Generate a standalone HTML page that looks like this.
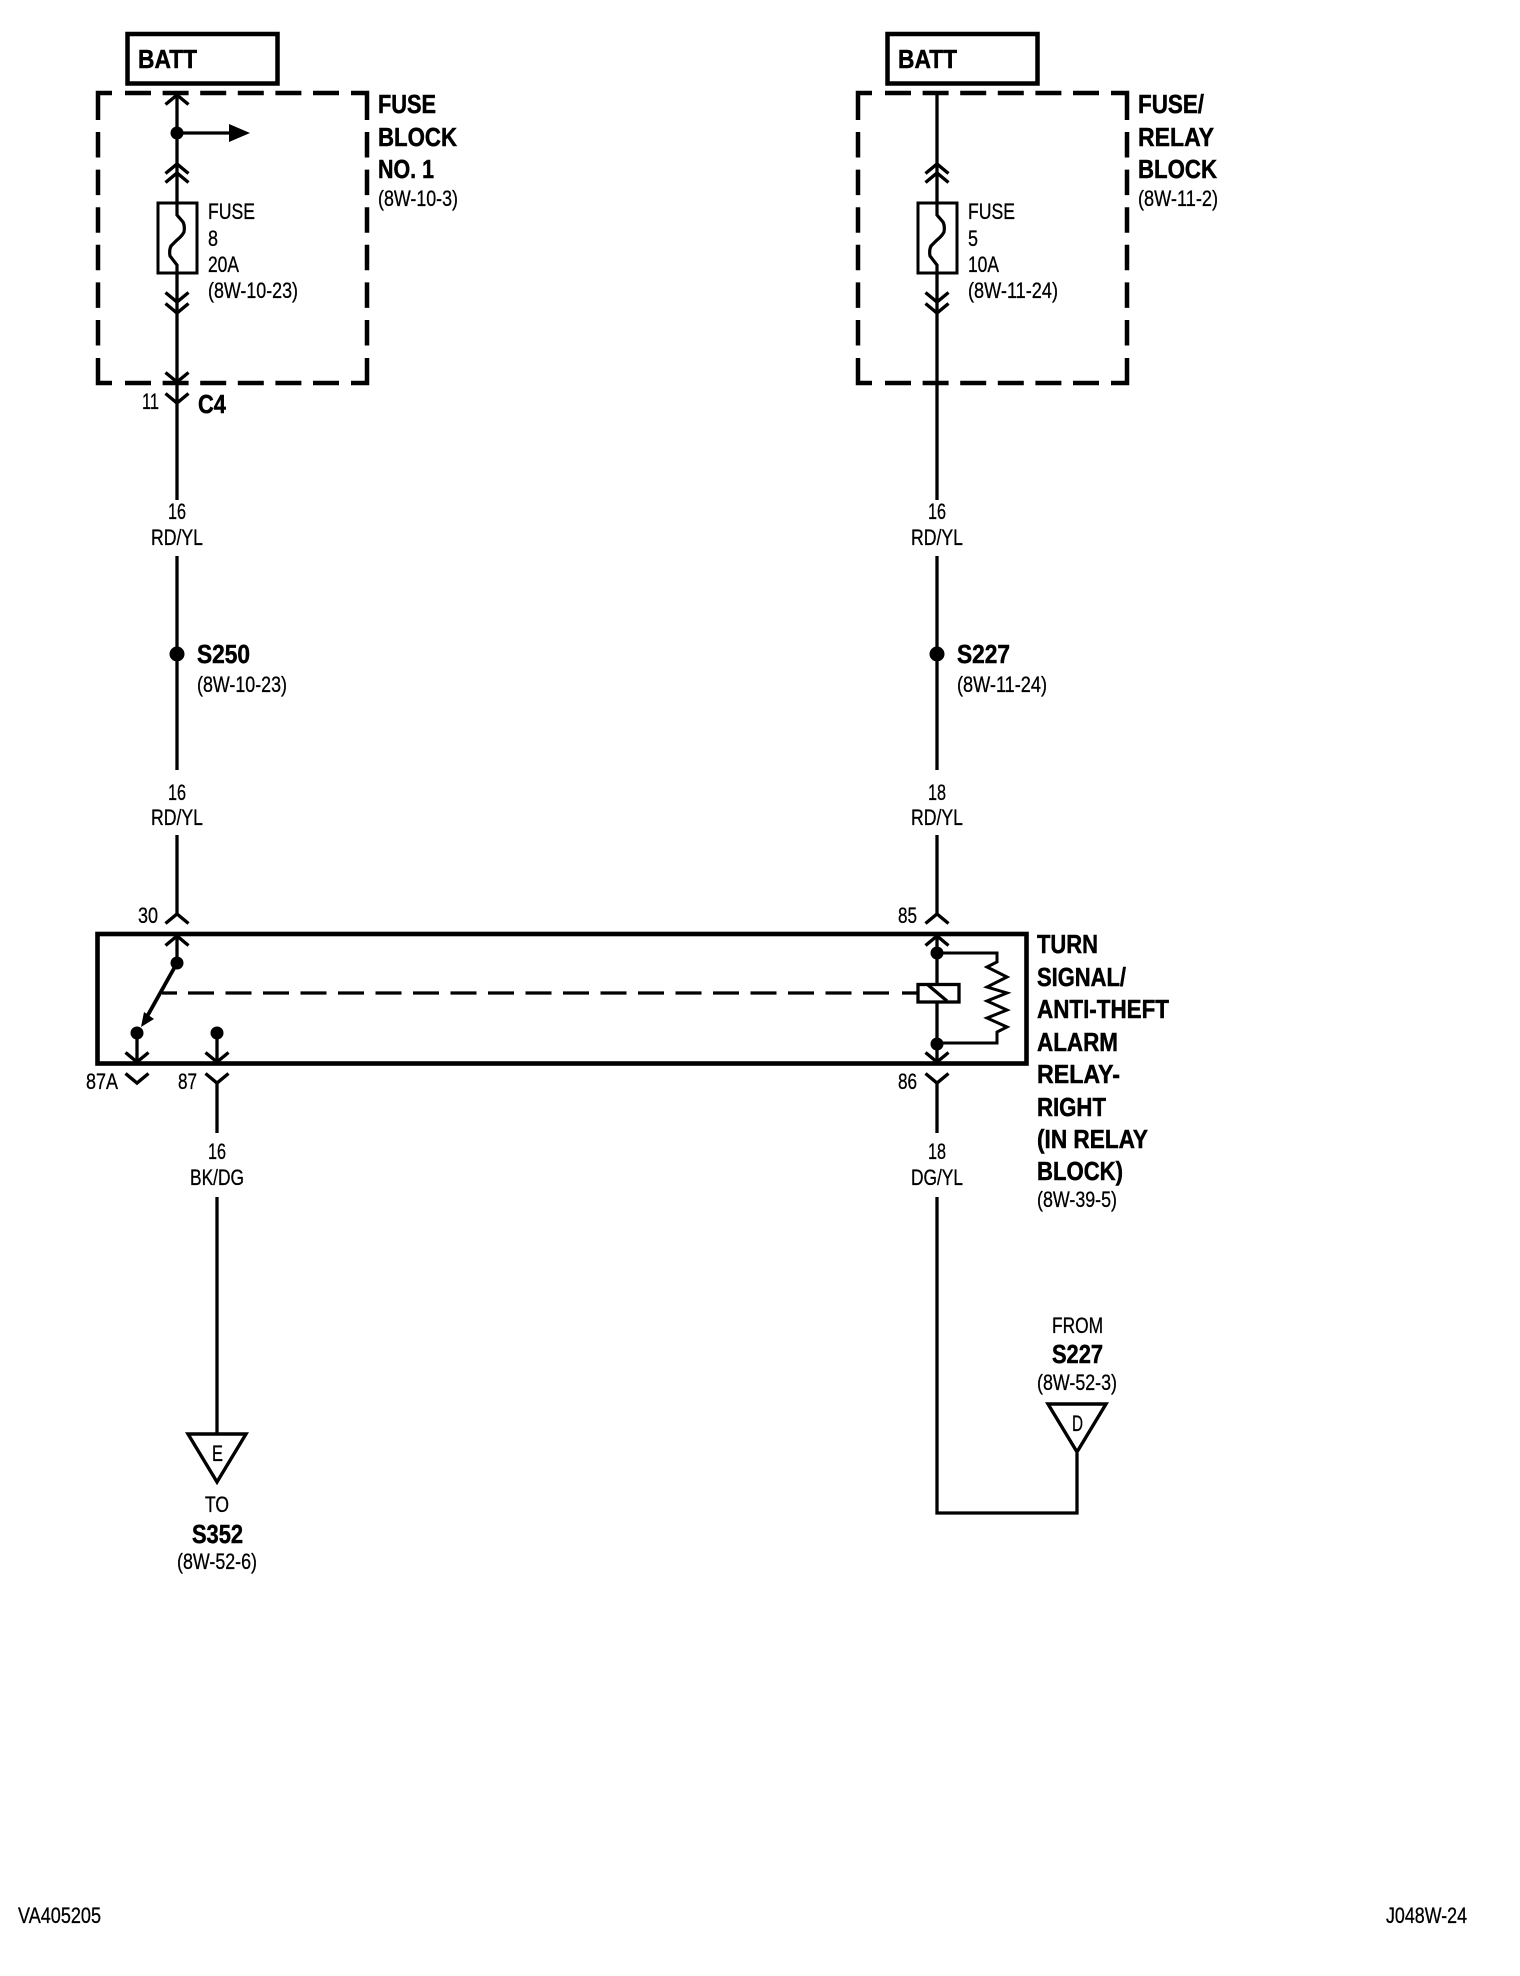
<!DOCTYPE html>
<html><head><meta charset="utf-8"><style>
html,body{margin:0;padding:0;background:#fff}
svg{display:block}
text{font-family:"Liberation Sans",Arial,sans-serif;fill:#000;stroke:#000}
.b{font-weight:bold;font-size:26px;stroke-width:.5}
.r{font-size:22px;stroke-width:.3}
</style></head><body>
<svg width="1520" height="1976" viewBox="0 0 1520 1976" xmlns="http://www.w3.org/2000/svg">
<defs>
<path id="up" d="M-11.5 9.5L0 0L11.5 9.5" fill="none" stroke="#000" stroke-width="3.4"/>
<path id="dn" d="M-11.5 -9.5L0 0L11.5 -9.5" fill="none" stroke="#000" stroke-width="3.4"/>
<g id="blk" fill="none" stroke="#000" stroke-width="4.5">
<path d="M98 120V93H112"/><path d="M367 120V93H351"/><path d="M98 358V383H112"/><path d="M367 358V383H351"/>
<path d="M125 93H340M125 383H340" stroke-dasharray="26 11.6"/>
<path d="M98 132V346M367 132V346" stroke-dasharray="25.5 12.1"/>
</g>
<path id="fz" d="M177 203V215L183 222Q185 226 184 232Q182 236 177 240L171 246Q169 250 170 256L177 265V273" fill="none" stroke="#000" stroke-width="3.2"/>
</defs>
<g fill="none" stroke="#000">
<!-- BATT boxes -->
<rect x="127.5" y="34" width="150" height="49.5" stroke-width="4.5"/>
<rect x="887.5" y="34" width="150" height="49.5" stroke-width="4.5"/>
<!-- wires -->
<g stroke-width="3.3">
<path d="M177 95V203M177 273V500M177 556V770M177 835V914"/>
<path d="M937 93V203M937 273V500M937 556V770M937 835V914"/>
<path d="M177 936V963"/>
<path d="M137 1033V1062M217 1033V1062"/>
<path d="M217 1083V1133M217 1197V1433"/>
<path d="M937 936V1062M937 1083V1133M937 1197V1513H1077V1453"/>
<path d="M177 133H232"/>
<!-- fuses -->
<rect x="158" y="203" width="39" height="70" stroke-width="3"/>
<rect x="918" y="203" width="39" height="70" stroke-width="3"/>
<!-- relay switch -->
<path d="M177 963L144 1022" stroke-width="3.8"/>
<rect x="918" y="984.5" width="41" height="17.5" fill="#fff"/>
<path d="M928 985L947 1001"/>
<path d="M937 953H997V962L987 967L1007 977L987 987L1007 993L987 1001L1007 1010L987 1018L1007 1027L997 1032V1043H937" stroke-width="3"/>
<path d="M162 993H177"/>
<path d="M188 993H889" stroke-dasharray="26 11.5"/>
<path d="M902 993H918"/>
</g>
<!-- relay box -->
<rect x="97.5" y="934" width="929" height="129.5" stroke-width="4.6"/>
<!-- triangles -->
<path d="M1048 1404H1106L1077 1452Z" stroke-width="3.4"/>
<path d="M188 1434H246L217 1482Z" stroke-width="3.4"/>
</g>
<use href="#blk"/><use href="#blk" x="760"/>
<use href="#fz"/><use href="#fz" x="760"/>
<g fill="#000">
<circle cx="177" cy="133" r="6.5"/>
<path d="M229 124L250 133L229 142Z"/>
<path d="M141 1027L144 1012L154 1019Z"/>
<circle cx="177" cy="963" r="6.5"/><circle cx="137" cy="1033" r="6.5"/><circle cx="217" cy="1033" r="6.5"/>
<circle cx="937" cy="953" r="6.5"/><circle cx="937" cy="1044" r="6.5"/>
<circle cx="177" cy="654" r="7.5"/><circle cx="937" cy="654" r="7.5"/>
</g>
<!-- chevrons -->
<g>
<use href="#up" x="177" y="95"/>
<use href="#up" x="177" y="164"/><use href="#up" x="177" y="173"/>
<use href="#dn" x="177" y="302"/><use href="#dn" x="177" y="313"/>
<use href="#dn" x="177" y="382"/><use href="#dn" x="177" y="403"/>
<use href="#up" x="937" y="164"/><use href="#up" x="937" y="173"/>
<use href="#dn" x="937" y="302"/><use href="#dn" x="937" y="313"/>
<use href="#up" x="177" y="914"/><use href="#up" x="177" y="936"/>
<use href="#up" x="937" y="914"/><use href="#up" x="937" y="936"/>
<use href="#dn" x="137" y="1062"/><use href="#dn" x="137" y="1083"/>
<use href="#dn" x="217" y="1062"/><use href="#dn" x="217" y="1083"/>
<use href="#dn" x="937" y="1062"/><use href="#dn" x="937" y="1083"/>
</g>
<!-- left column text -->
<text class="b" x="138" y="68" textLength="59" lengthAdjust="spacingAndGlyphs">BATT</text>
<text class="b" x="378" y="113" textLength="58" lengthAdjust="spacingAndGlyphs">FUSE</text>
<text class="b" x="378" y="146" textLength="79" lengthAdjust="spacingAndGlyphs">BLOCK</text>
<text class="b" x="378" y="178" textLength="56" lengthAdjust="spacingAndGlyphs">NO. 1</text>
<text class="r" x="378" y="206" textLength="80" lengthAdjust="spacingAndGlyphs">(8W-10-3)</text>
<text class="r" x="208" y="219" textLength="47" lengthAdjust="spacingAndGlyphs">FUSE</text>
<text class="r" x="208" y="246" textLength="10" lengthAdjust="spacingAndGlyphs">8</text>
<text class="r" x="208" y="272" textLength="31" lengthAdjust="spacingAndGlyphs">20A</text>
<text class="r" x="208" y="298" textLength="90" lengthAdjust="spacingAndGlyphs">(8W-10-23)</text>
<text class="r" x="142" y="409" textLength="17" lengthAdjust="spacingAndGlyphs">11</text>
<text class="b" x="198" y="413" textLength="28" lengthAdjust="spacingAndGlyphs">C4</text>
<text class="r" x="168" y="519" textLength="18" lengthAdjust="spacingAndGlyphs">16</text>
<text class="r" x="151" y="545" textLength="52" lengthAdjust="spacingAndGlyphs">RD/YL</text>
<text class="b" x="197" y="663" textLength="53" lengthAdjust="spacingAndGlyphs">S250</text>
<text class="r" x="197" y="692" textLength="90" lengthAdjust="spacingAndGlyphs">(8W-10-23)</text>
<text class="r" x="168" y="800" textLength="18" lengthAdjust="spacingAndGlyphs">16</text>
<text class="r" x="151" y="825" textLength="52" lengthAdjust="spacingAndGlyphs">RD/YL</text>
<text class="r" x="138" y="923" textLength="20" lengthAdjust="spacingAndGlyphs">30</text>
<text class="r" x="86" y="1089" textLength="32" lengthAdjust="spacingAndGlyphs">87A</text>
<text class="r" x="178" y="1089" textLength="19" lengthAdjust="spacingAndGlyphs">87</text>
<text class="r" x="208" y="1159" textLength="18" lengthAdjust="spacingAndGlyphs">16</text>
<text class="r" x="190" y="1185" textLength="54" lengthAdjust="spacingAndGlyphs">BK/DG</text>
<text class="r" x="212" y="1461" textLength="11" lengthAdjust="spacingAndGlyphs">E</text>
<text class="r" x="205" y="1512" textLength="24" lengthAdjust="spacingAndGlyphs">TO</text>
<text class="b" x="192" y="1543" textLength="51" lengthAdjust="spacingAndGlyphs">S352</text>
<text class="r" x="177" y="1569" textLength="80" lengthAdjust="spacingAndGlyphs">(8W-52-6)</text>
<text class="r" x="18" y="1923" textLength="83" lengthAdjust="spacingAndGlyphs">VA405205</text>
<!-- right column text -->
<text class="b" x="898" y="68" textLength="59" lengthAdjust="spacingAndGlyphs">BATT</text>
<text class="b" x="1138" y="113" textLength="66" lengthAdjust="spacingAndGlyphs">FUSE/</text>
<text class="b" x="1138" y="146" textLength="76" lengthAdjust="spacingAndGlyphs">RELAY</text>
<text class="b" x="1138" y="178" textLength="79" lengthAdjust="spacingAndGlyphs">BLOCK</text>
<text class="r" x="1138" y="206" textLength="80" lengthAdjust="spacingAndGlyphs">(8W-11-2)</text>
<text class="r" x="968" y="219" textLength="47" lengthAdjust="spacingAndGlyphs">FUSE</text>
<text class="r" x="968" y="246" textLength="10" lengthAdjust="spacingAndGlyphs">5</text>
<text class="r" x="968" y="272" textLength="31" lengthAdjust="spacingAndGlyphs">10A</text>
<text class="r" x="968" y="298" textLength="90" lengthAdjust="spacingAndGlyphs">(8W-11-24)</text>
<text class="r" x="928" y="519" textLength="18" lengthAdjust="spacingAndGlyphs">16</text>
<text class="r" x="911" y="545" textLength="52" lengthAdjust="spacingAndGlyphs">RD/YL</text>
<text class="b" x="957" y="663" textLength="53" lengthAdjust="spacingAndGlyphs">S227</text>
<text class="r" x="957" y="692" textLength="90" lengthAdjust="spacingAndGlyphs">(8W-11-24)</text>
<text class="r" x="928" y="800" textLength="18" lengthAdjust="spacingAndGlyphs">18</text>
<text class="r" x="911" y="825" textLength="52" lengthAdjust="spacingAndGlyphs">RD/YL</text>
<text class="r" x="898" y="923" textLength="19" lengthAdjust="spacingAndGlyphs">85</text>
<text class="r" x="898" y="1089" textLength="19" lengthAdjust="spacingAndGlyphs">86</text>
<text class="r" x="928" y="1159" textLength="18" lengthAdjust="spacingAndGlyphs">18</text>
<text class="r" x="911" y="1185" textLength="52" lengthAdjust="spacingAndGlyphs">DG/YL</text>
<text class="b" x="1037" y="953" textLength="61" lengthAdjust="spacingAndGlyphs">TURN</text>
<text class="b" x="1037" y="986" textLength="89" lengthAdjust="spacingAndGlyphs">SIGNAL/</text>
<text class="b" x="1037" y="1018" textLength="132" lengthAdjust="spacingAndGlyphs">ANTI-THEFT</text>
<text class="b" x="1037" y="1051" textLength="81" lengthAdjust="spacingAndGlyphs">ALARM</text>
<text class="b" x="1037" y="1083" textLength="83" lengthAdjust="spacingAndGlyphs">RELAY-</text>
<text class="b" x="1037" y="1116" textLength="69" lengthAdjust="spacingAndGlyphs">RIGHT</text>
<text class="b" x="1037" y="1148" textLength="111" lengthAdjust="spacingAndGlyphs">(IN RELAY</text>
<text class="b" x="1037" y="1180" textLength="86" lengthAdjust="spacingAndGlyphs">BLOCK)</text>
<text class="r" x="1037" y="1207" textLength="80" lengthAdjust="spacingAndGlyphs">(8W-39-5)</text>
<text class="r" x="1052" y="1333" textLength="51" lengthAdjust="spacingAndGlyphs">FROM</text>
<text class="b" x="1052" y="1363" textLength="51" lengthAdjust="spacingAndGlyphs">S227</text>
<text class="r" x="1037" y="1390" textLength="80" lengthAdjust="spacingAndGlyphs">(8W-52-3)</text>
<text class="r" x="1072" y="1431" textLength="11" lengthAdjust="spacingAndGlyphs">D</text>
<text class="r" x="1386" y="1923" textLength="81" lengthAdjust="spacingAndGlyphs">J048W-24</text>
</svg>
</body></html>
